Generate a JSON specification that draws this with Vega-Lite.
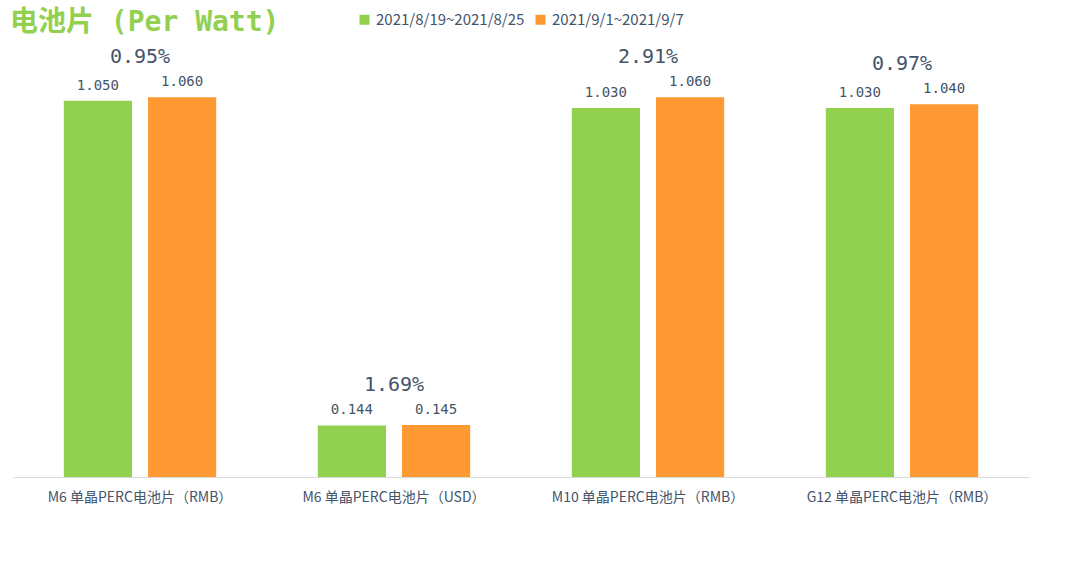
{
  "$schema": "https://vega.github.io/schema/vega-lite/v6.json",
  "width": 1016,
  "height": 430,
  "autosize": {"type": "none"},
  "padding": {"left": 13, "top": 47, "right": 51, "bottom": 85},
  "background": "white",
  "title": {
    "text": "电池片 (Per Watt)",
    "anchor": "start",
    "frame": "group",
    "color": "#92d050",
    "font": "DejaVu Sans Mono, Noto Sans CJK SC",
    "fontSize": 28,
    "fontWeight": "bold",
    "offset": 10,
    "dx": -3,
    "dy": 35
  },
  "data": {
    "values": [
      {"category": "M6 单晶PERC电池片（RMB）", "period": "2021/8/19~2021/8/25", "value": 1.050, "pct": "0.95%"},
      {"category": "M6 单晶PERC电池片（RMB）", "period": "2021/9/1~2021/9/7", "value": 1.060, "pct": "0.95%"},
      {"category": "M6 单晶PERC电池片（USD）", "period": "2021/8/19~2021/8/25", "value": 0.144, "pct": "1.69%"},
      {"category": "M6 单晶PERC电池片（USD）", "period": "2021/9/1~2021/9/7", "value": 0.145, "pct": "1.69%"},
      {"category": "M10 单晶PERC电池片（RMB）", "period": "2021/8/19~2021/8/25", "value": 1.030, "pct": "2.91%"},
      {"category": "M10 单晶PERC电池片（RMB）", "period": "2021/9/1~2021/9/7", "value": 1.060, "pct": "2.91%"},
      {"category": "G12 单晶PERC电池片（RMB）", "period": "2021/8/19~2021/8/25", "value": 1.030, "pct": "0.97%"},
      {"category": "G12 单晶PERC电池片（RMB）", "period": "2021/9/1~2021/9/7", "value": 1.040, "pct": "0.97%"}
    ]
  },
  "encoding": {
    "x": {
      "field": "category",
      "type": "nominal",
      "sort": null,
      "title": null,
      "scale": {"paddingInner": 0.4, "paddingOuter": 0.2},
      "axis": {
        "labelAngle": 0,
        "ticks": false,
        "domainColor": "#d9d9d9",
        "labelPadding": 13,
        "labelFontSize": 14,
        "labelLimit": 250,
        "labelColor": "#44546a",
        "labelFont": "Noto Sans CJK SC"
      }
    },
    "y": {
      "field": "value",
      "type": "quantitative",
      "scale": {"domain": [0, 1.2]},
      "axis": null
    }
  },
  "layer": [
    {
      "mark": {"type": "bar"},
      "encoding": {
        "xOffset": {
          "field": "period",
          "type": "nominal",
          "scale": {"paddingInner": 0.19, "paddingOuter": 0}
        },
        "color": {
          "field": "period",
          "type": "nominal",
          "title": null,
          "scale": {
            "domain": ["2021/8/19~2021/8/25", "2021/9/1~2021/9/7"],
            "range": ["#92d050", "#ff9933"]
          },
          "legend": {
            "orient": "none",
            "legendX": 344,
            "legendY": -35,
            "direction": "horizontal",
            "symbolType": "square",
            "symbolSize": 100,
            "symbolStrokeWidth": 0,
            "labelFontSize": 15,
            "labelColor": "#44546a",
            "labelFont": "Noto Sans CJK SC",
            "columnPadding": 8
          }
        }
      }
    },
    {
      "mark": {
        "type": "text",
        "baseline": "bottom",
        "dy": -8,
        "fontSize": 14,
        "color": "#44546a",
        "font": "DejaVu Sans Mono"
      },
      "encoding": {
        "xOffset": {
          "field": "period",
          "type": "nominal",
          "scale": {"paddingInner": 0.19, "paddingOuter": 0}
        },
        "text": {"field": "value", "type": "quantitative", "format": ".3f"}
      }
    },
    {
      "transform": [
        {"aggregate": [{"op": "max", "field": "value", "as": "top"}], "groupby": ["category", "pct"]}
      ],
      "mark": {
        "type": "text",
        "baseline": "bottom",
        "dy": -30,
        "fontSize": 20,
        "color": "#44546a",
        "font": "DejaVu Sans Mono"
      },
      "encoding": {
        "y": {"field": "top", "type": "quantitative"},
        "text": {"field": "pct", "type": "nominal"}
      }
    }
  ],
  "config": {
    "view": {"stroke": null},
    "axis": {"grid": false}
  }
}
